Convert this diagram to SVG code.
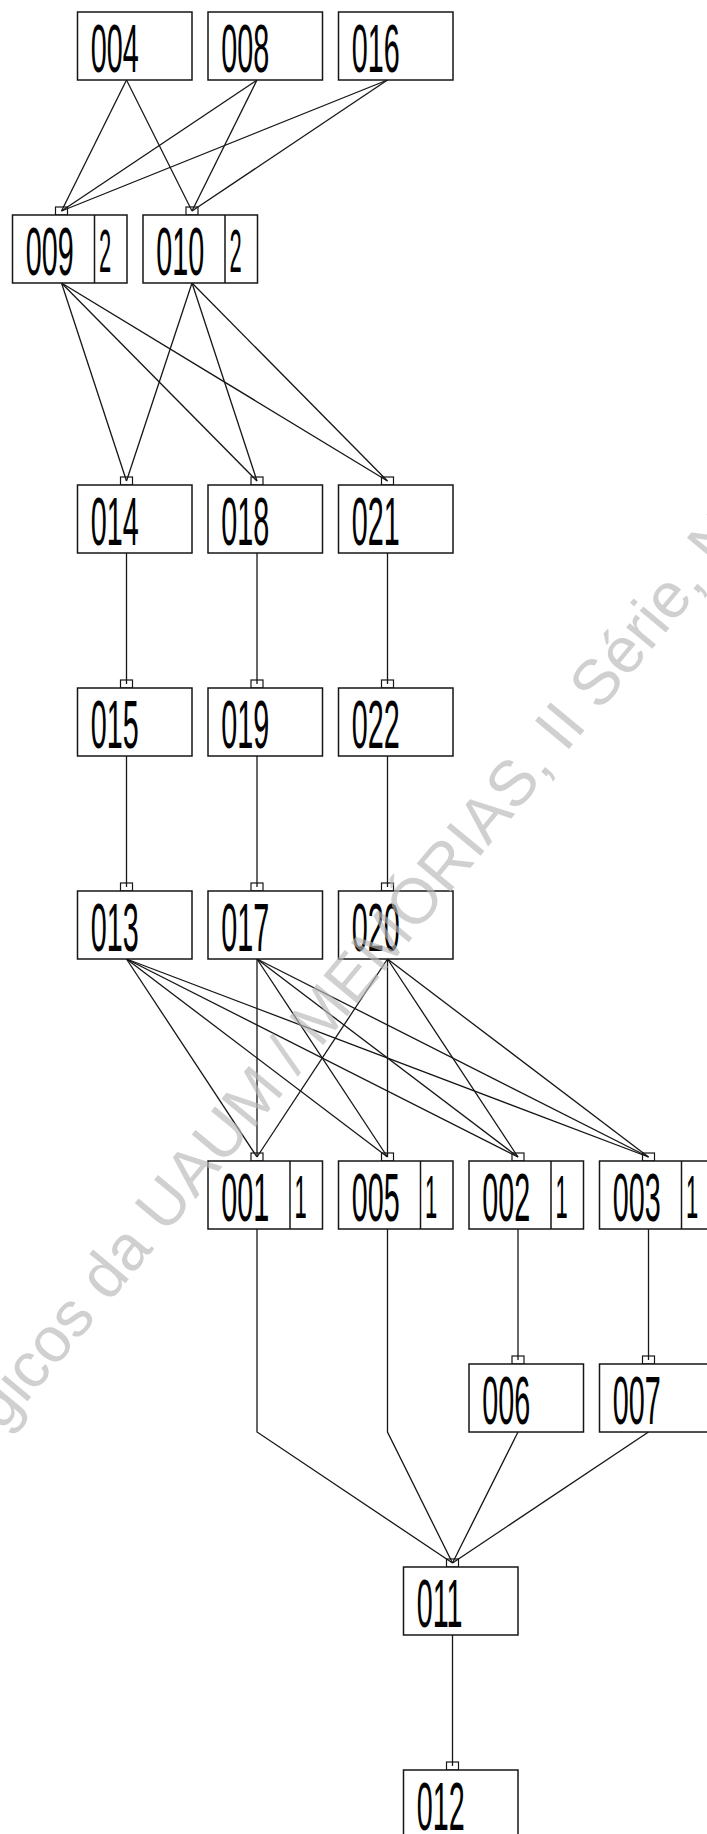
<svg xmlns="http://www.w3.org/2000/svg" width="707" height="1834" viewBox="0 0 707 1834">
  <style>
    .box { fill: #fff; stroke: #161616; stroke-width: 1.5; }
    .div { stroke: #161616; stroke-width: 1.5; }
    .port { fill: none; stroke: #161616; stroke-width: 1.2; }
    .edge { fill: none; stroke: #161616; stroke-width: 1.3; }
    .lbl { font-family: "Liberation Sans", Arial, sans-serif; font-size: 69px; fill: #000; }
    .cnt { font-family: "Liberation Sans", Arial, sans-serif; font-size: 61px; fill: #000; }
    .wm { font-family: "Liberation Sans", Arial, sans-serif; font-size: 64px; fill: #b8b8b8; opacity: 0.65; }
  </style>

  <rect x="0" y="0" width="707" height="1834" fill="#fff"/>

  <!-- connectors: parent bottom attach point to child top port -->
  <g id="connectors">
    <line class="edge" x1="126.5" y1="80" x2="61.5" y2="211"/>
    <line class="edge" x1="126.5" y1="80" x2="192" y2="211"/>
    <line class="edge" x1="257" y1="80" x2="61.5" y2="211"/>
    <line class="edge" x1="257" y1="80" x2="192" y2="211"/>
    <line class="edge" x1="387.5" y1="80" x2="61.5" y2="211"/>
    <line class="edge" x1="387.5" y1="80" x2="192" y2="211"/>

    <line class="edge" x1="61.5" y1="283" x2="126.5" y2="481"/>
    <line class="edge" x1="61.5" y1="283" x2="257" y2="481"/>
    <line class="edge" x1="61.5" y1="283" x2="387.5" y2="481"/>
    <line class="edge" x1="192" y1="283" x2="126.5" y2="481"/>
    <line class="edge" x1="192" y1="283" x2="257" y2="481"/>
    <line class="edge" x1="192" y1="283" x2="387.5" y2="481"/>

    <line class="edge" x1="126.5" y1="553" x2="126.5" y2="684"/>
    <line class="edge" x1="257" y1="553" x2="257" y2="684"/>
    <line class="edge" x1="387.5" y1="553" x2="387.5" y2="684"/>

    <line class="edge" x1="126.5" y1="756" x2="126.5" y2="887"/>
    <line class="edge" x1="257" y1="756" x2="257" y2="887"/>
    <line class="edge" x1="387.5" y1="756" x2="387.5" y2="887"/>

    <line class="edge" x1="126.5" y1="959" x2="257" y2="1157"/>
    <line class="edge" x1="126.5" y1="959" x2="387.5" y2="1157"/>
    <line class="edge" x1="126.5" y1="959" x2="518" y2="1157"/>
    <line class="edge" x1="126.5" y1="959" x2="648.5" y2="1157"/>
    <line class="edge" x1="257" y1="959" x2="257" y2="1157"/>
    <line class="edge" x1="257" y1="959" x2="387.5" y2="1157"/>
    <line class="edge" x1="257" y1="959" x2="518" y2="1157"/>
    <line class="edge" x1="257" y1="959" x2="648.5" y2="1157"/>
    <line class="edge" x1="387.5" y1="959" x2="257" y2="1157"/>
    <line class="edge" x1="387.5" y1="959" x2="387.5" y2="1157"/>
    <line class="edge" x1="387.5" y1="959" x2="518" y2="1157"/>
    <line class="edge" x1="387.5" y1="959" x2="648.5" y2="1157"/>

    <line class="edge" x1="518" y1="1229" x2="518" y2="1360"/>
    <line class="edge" x1="648.5" y1="1229" x2="648.5" y2="1360"/>

    <polyline class="edge" points="257,1229 257,1432 452.5,1563"/>
    <polyline class="edge" points="387.5,1229 387.5,1432 452.5,1563"/>
    <line class="edge" x1="518" y1="1432" x2="452.5" y2="1563"/>
    <line class="edge" x1="648.5" y1="1432" x2="452.5" y2="1563"/>

    <line class="edge" x1="452.5" y1="1635" x2="452.5" y2="1766"/>
  </g>

  <!-- row 1 -->
  <g id="n004"><rect class="box" x="77.5" y="12" width="114.5" height="68"/><text class="lbl" transform="translate(90.7,71.5) scale(0.417,1)">004</text></g>
  <g id="n008"><rect class="box" x="208" y="12" width="114.5" height="68"/><text class="lbl" transform="translate(221.2,71.5) scale(0.417,1)">008</text></g>
  <g id="n016"><rect class="box" x="338.5" y="12" width="114.5" height="68"/><text class="lbl" transform="translate(351.7,71.5) scale(0.417,1)">016</text></g>

  <!-- row 2 -->
  <g id="n009"><rect class="port" x="55.5" y="207" width="12" height="8"/><rect class="box" x="12.5" y="215" width="114.5" height="68"/><line class="div" x1="94.5" y1="215" x2="94.5" y2="283"/><text class="lbl" transform="translate(25.7,274.5) scale(0.417,1)">009</text><text class="cnt" transform="translate(99,272) scale(0.36,1)">2</text></g>
  <g id="n010"><rect class="port" x="186" y="207" width="12" height="8"/><rect class="box" x="143" y="215" width="114.5" height="68"/><line class="div" x1="225" y1="215" x2="225" y2="283"/><text class="lbl" transform="translate(156.2,274.5) scale(0.417,1)">010</text><text class="cnt" transform="translate(229.5,272) scale(0.36,1)">2</text></g>

  <!-- row 3 -->
  <g id="n014"><rect class="port" x="120.5" y="477" width="12" height="8"/><rect class="box" x="77.5" y="485" width="114.5" height="68"/><text class="lbl" transform="translate(90.7,545) scale(0.417,1)">014</text></g>
  <g id="n018"><rect class="port" x="251" y="477" width="12" height="8"/><rect class="box" x="208" y="485" width="114.5" height="68"/><text class="lbl" transform="translate(221.2,545) scale(0.417,1)">018</text></g>
  <g id="n021"><rect class="port" x="381.5" y="477" width="12" height="8"/><rect class="box" x="338.5" y="485" width="114.5" height="68"/><text class="lbl" transform="translate(351.7,545) scale(0.417,1)">021</text></g>

  <!-- row 4 -->
  <g id="n015"><rect class="port" x="120.5" y="680" width="12" height="8"/><rect class="box" x="77.5" y="688" width="114.5" height="68"/><text class="lbl" transform="translate(90.7,748) scale(0.417,1)">015</text></g>
  <g id="n019"><rect class="port" x="251" y="680" width="12" height="8"/><rect class="box" x="208" y="688" width="114.5" height="68"/><text class="lbl" transform="translate(221.2,748) scale(0.417,1)">019</text></g>
  <g id="n022"><rect class="port" x="381.5" y="680" width="12" height="8"/><rect class="box" x="338.5" y="688" width="114.5" height="68"/><text class="lbl" transform="translate(351.7,748) scale(0.417,1)">022</text></g>

  <!-- row 5 -->
  <g id="n013"><rect class="port" x="120.5" y="883" width="12" height="8"/><rect class="box" x="77.5" y="891" width="114.5" height="68"/><text class="lbl" transform="translate(90.7,951) scale(0.417,1)">013</text></g>
  <g id="n017"><rect class="port" x="251" y="883" width="12" height="8"/><rect class="box" x="208" y="891" width="114.5" height="68"/><text class="lbl" transform="translate(221.2,951) scale(0.417,1)">017</text></g>
  <g id="n020"><rect class="port" x="381.5" y="883" width="12" height="8"/><rect class="box" x="338.5" y="891" width="114.5" height="68"/><text class="lbl" transform="translate(351.7,951) scale(0.417,1)">020</text></g>

  <!-- row 6 -->
  <g id="n001"><rect class="port" x="251" y="1153" width="12" height="8"/><rect class="box" x="208" y="1161" width="114.5" height="68"/><line class="div" x1="290" y1="1161" x2="290" y2="1229"/><text class="lbl" transform="translate(221.2,1221) scale(0.417,1)">001</text><text class="cnt" transform="translate(294.5,1218) scale(0.36,1)">1</text></g>
  <g id="n005"><rect class="port" x="381.5" y="1153" width="12" height="8"/><rect class="box" x="338.5" y="1161" width="114.5" height="68"/><line class="div" x1="420.5" y1="1161" x2="420.5" y2="1229"/><text class="lbl" transform="translate(351.7,1221) scale(0.417,1)">005</text><text class="cnt" transform="translate(425,1218) scale(0.36,1)">1</text></g>
  <g id="n002"><rect class="port" x="512" y="1153" width="12" height="8"/><rect class="box" x="469" y="1161" width="114.5" height="68"/><line class="div" x1="551" y1="1161" x2="551" y2="1229"/><text class="lbl" transform="translate(482.2,1221) scale(0.417,1)">002</text><text class="cnt" transform="translate(555.5,1218) scale(0.36,1)">1</text></g>
  <g id="n003"><rect class="port" x="642.5" y="1153" width="12" height="8"/><rect class="box" x="599.5" y="1161" width="114.5" height="68"/><line class="div" x1="681.5" y1="1161" x2="681.5" y2="1229"/><text class="lbl" transform="translate(612.7,1221) scale(0.417,1)">003</text><text class="cnt" transform="translate(686,1218) scale(0.36,1)">1</text></g>

  <!-- row 7 -->
  <g id="n006"><rect class="port" x="512" y="1356" width="12" height="8"/><rect class="box" x="469" y="1364" width="114.5" height="68"/><text class="lbl" transform="translate(482.2,1424) scale(0.417,1)">006</text></g>
  <g id="n007"><rect class="port" x="642.5" y="1356" width="12" height="8"/><rect class="box" x="599.5" y="1364" width="114.5" height="68"/><text class="lbl" transform="translate(612.7,1424) scale(0.417,1)">007</text></g>

  <!-- row 8 -->
  <g id="n011"><rect class="port" x="446.5" y="1559" width="12" height="8"/><rect class="box" x="403.5" y="1567" width="114.5" height="68"/><text class="lbl" transform="translate(416.7,1627) scale(0.417,1)">011</text></g>

  <!-- row 9 -->
  <g id="n012"><rect class="port" x="446.5" y="1762" width="12" height="8"/><rect class="box" x="403.5" y="1770" width="114.5" height="68"/><text class="lbl" transform="translate(416.7,1830) scale(0.417,1)">012</text></g>

  <!-- diagonal watermark -->
  <text class="wm" transform="translate(2,1432) rotate(-50.3)">gicos da UAUM / MEMÓRIAS, II Série, N</text>
</svg>
